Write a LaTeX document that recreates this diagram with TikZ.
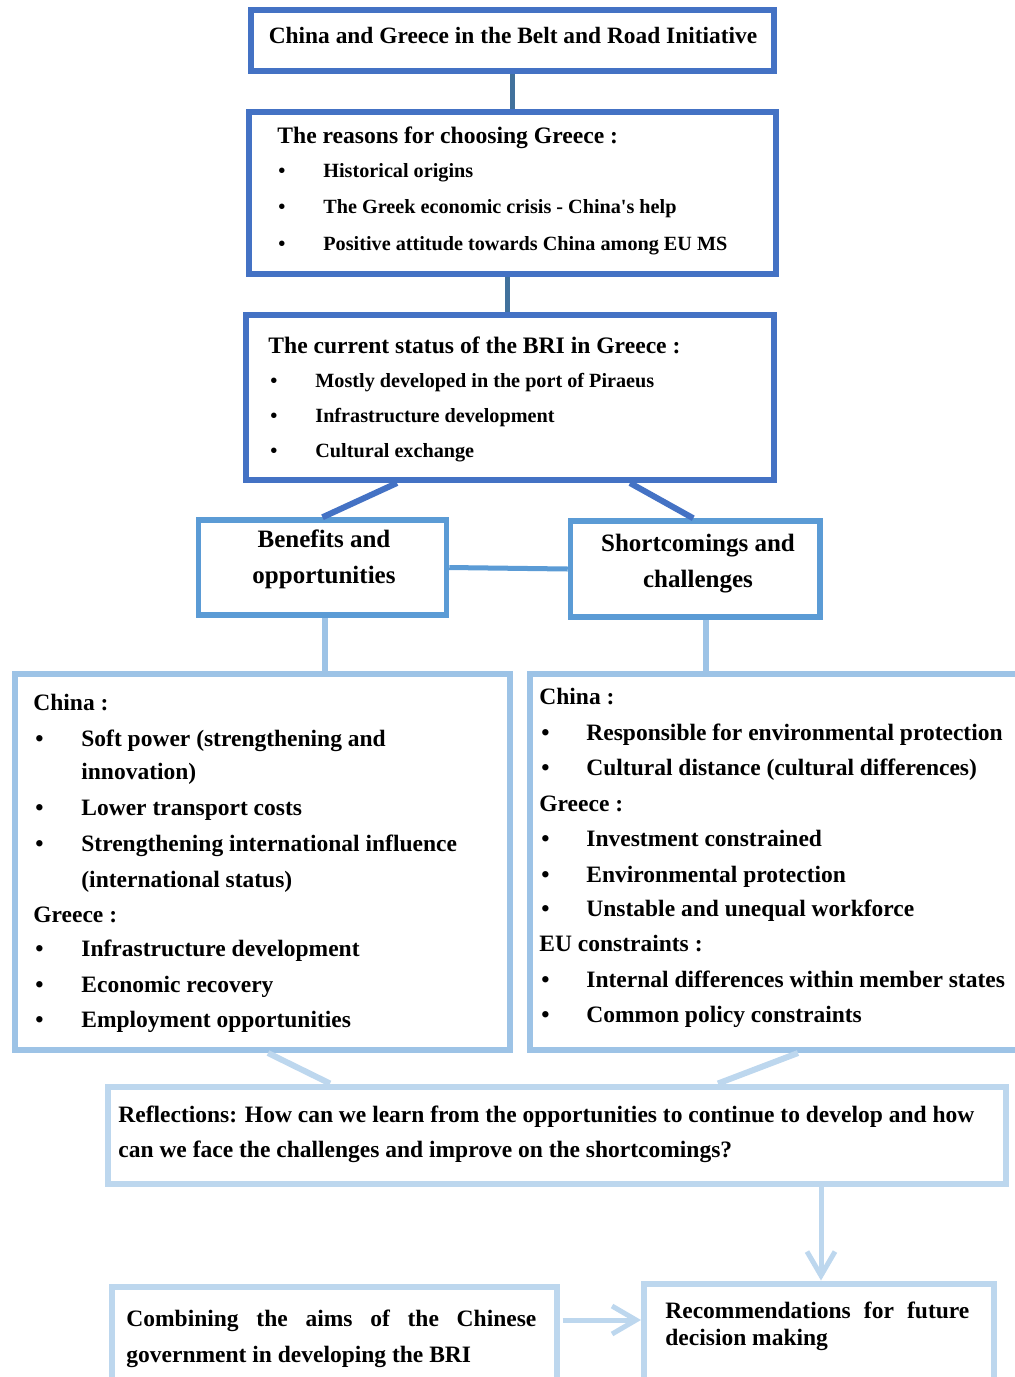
\documentclass[tikz,border=0pt]{standalone}
\usepackage{fontspec}
\setmainfont{Liberation Serif}
\usetikzlibrary{fit,arrows.meta}
\definecolor{dblue}{HTML}{4472C4}
\definecolor{cblue}{HTML}{41719C}
\definecolor{mblue}{HTML}{5B9BD5}
\definecolor{lblue}{HTML}{9DC3E6}
\definecolor{xblue}{HTML}{BDD7EE}
\newcommand{\strq}{{\addfontfeature{Ligatures=TeXOff}'}}
\begin{document}
\begin{tikzpicture}[x=0.5pt,y=-0.5pt,
  dbox/.style={draw=dblue, line width=3pt, inner sep=0pt},
  mbox/.style={draw=mblue, line width=2.75pt, inner sep=0pt},
  lbox/.style={draw=lblue, line width=3pt, inner sep=0pt},
  xbox/.style={draw=xblue, line width=3pt, inner sep=0pt},
  hd/.style={anchor=base west, inner sep=0pt, font=\fontsize{11.8}{13}\selectfont\bfseries},
  it/.style={anchor=base west, inner sep=0pt, font=\fontsize{10.1}{12}\selectfont\bfseries},
  mid/.style={anchor=base, inner sep=0pt, font=\fontsize{12.5}{14}\selectfont\bfseries},
  bg/.style={anchor=base west, inner sep=0pt, font=\fontsize{11.75}{13}\selectfont\bfseries},
  arr/.style={-{Straight Barb[length=12pt,width=14pt]}},
]
\useasboundingbox (0,0) rectangle (1015,1377);
\clip (0,0) rectangle (1015,1377);

% boxes
\node[dbox, fit={(251,10) (773.5,71)}] (title) {};
\node[dbox, fit={(249,111.5) (775.5,274)}] (reasons) {};
\node[dbox, fit={(246,315) (774,480)}] (status) {};
\node[mbox, fit={(198.5,520) (446.5,615)}] (benefits) {};
\node[mbox, fit={(570.5,521) (820,617)}] (short) {};
\node[lbox, fit={(15,673.5) (510,1050)}] (leftbig) {};
\node[lbox, fit={(530,673.5) (1040,1050)}] (rightbig) {};
\node[xbox, fit={(108,1086.5) (1006,1183.5)}] (refl) {};
\node[xbox, fit={(112,1287) (556.5,1430)}] (comb) {};
\node[xbox, fit={(644,1283.5) (994,1430)}] (recom) {};

% connectors
\draw[cblue, line width=2.5pt] (title.south) -- (reasons.north);
\draw[cblue, line width=2.5pt] ([xshift=-2.6pt]reasons.south) -- ([xshift=-2.6pt]reasons.south |- status.north);
\draw[dblue, line width=3pt] ([xshift=-56.5pt]status.south) -- (benefits.north);
\draw[dblue, line width=3pt] ([xshift=60pt]status.south) -- ([xshift=-1pt]short.north);
\draw[mblue, line width=2.5pt] (benefits.east) -- (short.west);
\draw[lblue, line width=3pt] ([xshift=1.25pt]benefits.south) -- ([xshift=1.25pt]benefits.south |- leftbig.north);
\draw[lblue, line width=3pt] ([xshift=5.5pt]short.south) -- ([xshift=5.5pt]short.south |- rightbig.north);
\draw[xblue, line width=3pt] ([xshift=2.75pt]leftbig.south) -- ([xshift=-113.5pt]refl.north);
\draw[xblue, line width=3pt] ([xshift=6.5pt]rightbig.south) -- ([xshift=80.5pt]refl.north);
\draw[xblue, line width=2.5pt, arr] ([xshift=132pt]refl.south) -- ([xshift=132pt]refl.south |- recom.north);
\coordinate (ay) at (0,1320);
\draw[xblue, line width=2.5pt, arr, shorten <=1.5pt] (comb.east |- ay) -- (recom.west |- ay);

% texts
\node[anchor=base, inner sep=0pt, font=\fontsize{11.7}{13}\selectfont\bfseries] (t0) at (513,43) {China and Greece in the Belt and Road Initiative};

\node[hd] (r0) at (277,143) {The reasons for choosing Greece :};
\node[it] (rb1) at (278,177) {•};
\node[it] (r1) at (323,177) {Historical origins};
\node[it] (rb2) at (278,213) {•};
\node[it] (r2) at (323,213) {The Greek economic crisis - China\strq s help};
\node[it] (rb3) at (278,250) {•};
\node[it] (r3) at (323,250) {Positive attitude towards China among EU MS};

\node[hd] (s0) at (268,353) {The current status of the BRI in Greece :};
\node[it] (sb1) at (270,387) {•};
\node[it] (s1) at (315,387) {Mostly developed in the port of Piraeus};
\node[it] (sb2) at (270,422) {•};
\node[it] (s2) at (315,422) {Infrastructure development};
\node[it] (sb3) at (270,457) {•};
\node[it] (s3) at (315,457) {Cultural exchange};

\node[mid] (b1) at (324,547) {Benefits and};
\node[mid] (b2) at (324,583) {opportunities};
\node[mid] (c1) at (698,551) {Shortcomings and};
\node[mid] (c2) at (698,587) {challenges};

\node[bg] (l0) at (33,710) {China :};
\node[bg] (lb1) at (35,746) {•};
\node[bg] (l1) at (81,746) {Soft power (strengthening and};
\node[bg] (l1b) at (81,779) {innovation)};
\node[bg] (lb2) at (35,815) {•};
\node[bg] (l2) at (81,815) {Lower transport costs};
\node[bg] (lb3) at (35,851) {•};
\node[bg] (l3) at (81,851) {Strengthening international influence};
\node[bg] (l3b) at (81,887) {(international status)};
\node[bg] (l4) at (33,922) {Greece :};
\node[bg] (lb5) at (35,956) {•};
\node[bg] (l5) at (81,956) {Infrastructure development};
\node[bg] (lb6) at (35,992) {•};
\node[bg] (l6) at (81,992) {Economic recovery};
\node[bg] (lb7) at (35,1027) {•};
\node[bg] (l7) at (81,1027) {Employment opportunities};

\node[bg] (g0) at (539,704) {China :};
\node[bg] (gb1) at (541,740) {•};
\node[bg] (g1) at (586,740) {Responsible for environmental protection};
\node[bg] (gb2) at (541,775) {•};
\node[bg] (g2) at (586,775) {Cultural distance (cultural differences)};
\node[bg] (g3) at (539,811) {Greece :};
\node[bg] (gb4) at (541,846) {•};
\node[bg] (g4) at (586,846) {Investment constrained};
\node[bg] (gb5) at (541,882) {•};
\node[bg] (g5) at (586,882) {Environmental protection};
\node[bg] (gb6) at (541,916) {•};
\node[bg] (g6) at (586,916) {Unstable and unequal workforce};
\node[bg] (g7) at (539,951) {EU constraints :};
\node[bg] (gb8) at (541,987) {•};
\node[bg] (g8) at (586,987) {Internal differences within member states};
\node[bg] (gb9) at (541,1022) {•};
\node[bg] (g9) at (586,1022) {Common policy constraints};

\node[bg] (f1) at (118,1122) {Reflections: How can we learn from the opportunities to continue to develop and how};
\node[bg] (f2) at (118,1157) {can we face the challenges and improve on the shortcomings?};

\node[bg] (m1) at (126,1326) {\makebox[205pt][s]{Combining the aims of the Chinese}};
\node[bg] (m2) at (126,1362) {government in developing the BRI};

\node[bg] (k1) at (665,1318) {\makebox[152pt][s]{Recommendations for future}};
\node[bg] (k2) at (665,1345) {decision making};
\end{tikzpicture}
\end{document}
